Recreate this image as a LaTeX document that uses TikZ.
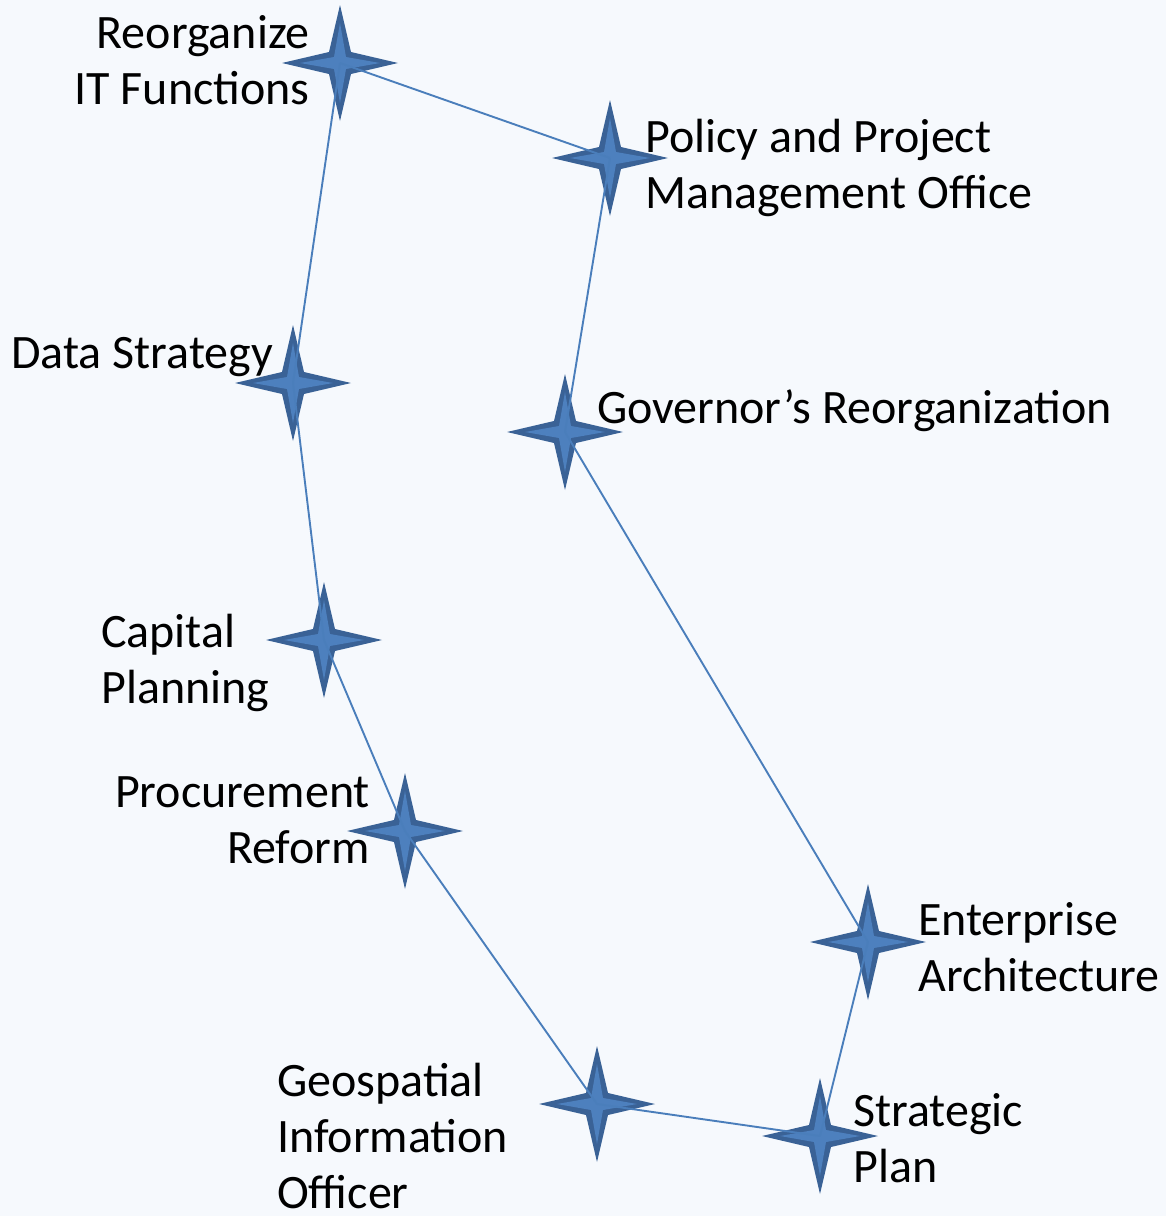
\documentclass[tikz,border=0pt]{standalone}
\usepackage{fontspec}
\setmainfont{Carlito}
\definecolor{bgblue}{HTML}{F6F9FD}
\definecolor{stardark}{HTML}{3A6296}
\definecolor{starlight}{HTML}{4D80BE}
\definecolor{edgeblue}{HTML}{4A7EBB}
\tikzset{
  x=1pt, y=-1pt,
  lbl/.style={inner sep=0pt, font=\fontsize{48}{56}\selectfont, text=black},
  link/.style={draw=edgeblue, line width=1.9pt},
  pics/spark/.style={code={
    \fill[stardark] (0,-58) -- (11,-11) -- (58,0) -- (11,11) -- (0,58) -- (-11,11) -- (-58,0) -- (-11,-11) -- cycle;
    \fill[starlight] (0,-40) -- (6,-6) -- (40,0) -- (6,6) -- (0,40) -- (-6,6) -- (-40,0) -- (-6,-6) -- cycle;
  }}
}
\newcommand{\tl}{\rule{0pt}{40pt}}
\begin{document}
\begin{tikzpicture}
\useasboundingbox (0,0) rectangle (1166,1216);
\fill[bgblue] (0,0) rectangle (1166,1216);
\begin{scope}
\clip (0,0) rectangle (1166,1216);
% star centres
\coordinate (s1) at (340,63);
\coordinate (s2) at (610,158);
\coordinate (s3) at (293,383);
\coordinate (s4) at (565,432);
\coordinate (s5) at (324,640);
\coordinate (s6) at (405,831);
\coordinate (s7) at (868,942);
\coordinate (s8) at (597,1104);
\coordinate (s9) at (820,1136);
\foreach \s in {s1,s2,s3,s4,s5,s6,s7,s8,s9} \pic at (\s) {spark};
% connectors
\draw[link] (s1) -- (s2);
\draw[link] (s1) -- (s3);
\draw[link] (s2) -- (s4);
\draw[link] (s3) -- (s5);
\draw[link] (s5) -- (s6);
\draw[link] (s6) -- (s8);
\draw[link] (s8) -- (s9);
\draw[link] (s9) -- (s7);
\draw[link] (s7) -- (s4);
% labels
\node[lbl, anchor=north east, align=right] (t1) at (310,8) {\tl Reorganize\\IT Functions};
\node[lbl, anchor=north west, align=left] (t2) at (645,112) {\tl Policy and Project\\Management Office};
\node[lbl, anchor=north west, align=left] (t3) at (11,328) {\tl Data Strategy};
\node[lbl, anchor=north west, align=left] (t4) at (597,383) {\tl Governor’s Reorganization};
\node[lbl, anchor=north west, align=left] (t5) at (101,607) {\tl Capital\\Planning};
\node[lbl, anchor=north east, align=right] (t6) at (370,767) {\tl Procurement\\Reform};
\node[lbl, anchor=north west, align=left] (t7) at (918,895) {\tl Enterprise\\Architecture};
\node[lbl, anchor=north west, align=left] (t8) at (277,1056) {\tl Geospatial\\Information\\Officer};
\node[lbl, anchor=north west, align=left] (t9) at (853,1086) {\tl Strategic\\Plan};
\end{scope}
\end{tikzpicture}
\end{document}
